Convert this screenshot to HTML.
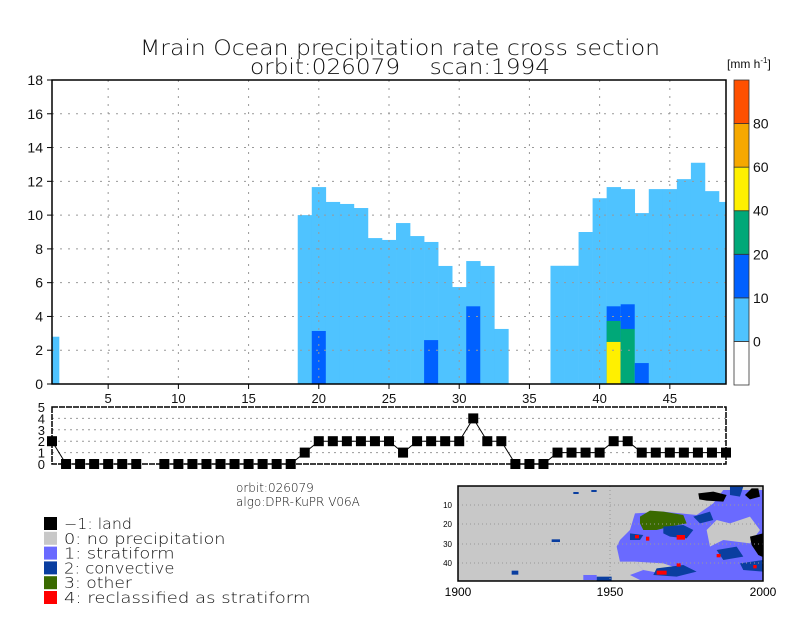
<!DOCTYPE html>
<html><head><meta charset="utf-8"><style>
html,body{margin:0;padding:0;background:#fff;}
svg{display:block;font-family:"Liberation Sans",sans-serif;}
.thin{font-family:"DejaVu Sans","Liberation Sans",sans-serif;font-weight:200;}
</style></head><body>
<svg id="chart" width="800" height="618" viewBox="0 0 800 618">
<text class="thin" x="400" y="55" text-anchor="middle" font-size="21" textLength="520" lengthAdjust="spacingAndGlyphs" fill="#111">Mrain Ocean precipitation rate cross section</text>
<text class="thin" x="400" y="74" text-anchor="middle" font-size="21" textLength="300" lengthAdjust="spacingAndGlyphs" fill="#111" xml:space="preserve">orbit:026079    scan:1994</text>
<text x="727" y="68" font-size="12" fill="#111">[mm h<tspan font-size="8" dy="-5">-1</tspan><tspan dy="5">]</tspan></text>
<g id="main"></g>
<g id="cbar"></g>
<g id="sub"></g>
<text class="thin" x="236" y="492" font-size="12" fill="#111">orbit:026079</text>
<text class="thin" x="236" y="506" font-size="12" fill="#111">algo:DPR-KuPR V06A</text>
<g id="legend"></g>
<g id="map">
 <rect x="458" y="486" width="305" height="95" fill="#c8c8c8"/>
 <g transform="translate(430,480) scale(0.3333)">
  <polygon fill="#6a6aff" points="570,180 600,150 615,100 700,95 800,105 850,70 880,30 1000,30 1000,300 630,300 600,285 640,270 615,245 570,245 560,200"/>
  <polygon fill="#c8c8c8" points="830,150 860,120 900,130 960,110 990,150 960,190 880,180 840,200"/>
  <polygon fill="#c8c8c8" points="615,245 700,250 760,270 720,285 640,270"/>
  <polygon fill="#3a6a00" points="630,110 660,92 700,95 760,105 770,130 720,140 680,150 640,150 630,130"/>
  <polygon fill="#0a3ea0" points="700,140 760,135 790,150 770,175 720,170 700,160"/>
  <polygon fill="#0a3ea0" points="790,110 840,95 850,120 810,130"/>
  <polygon fill="#0a3ea0" points="860,210 920,200 940,230 880,240"/>
  <polygon fill="#0a3ea0" points="680,265 760,255 800,275 740,290 670,285"/>
  <polygon fill="#0a3ea0" points="930,250 1000,240 1000,275 940,270"/>
  <polygon fill="#0a3ea0" points="900,20 940,20 930,50 900,45"/>
  <polygon fill="#0a3ea0" points="600,160 640,165 630,180 600,180"/>
  <polygon fill="#000" points="805,40 850,35 890,45 880,65 830,62 808,58"/>
  <polygon fill="#000" points="945,45 965,25 985,25 990,50 960,58"/>
  <polygon fill="#000" points="960,170 1000,160 1000,232 985,225 965,195"/>
  <rect x="500" y="290" width="45" height="12" fill="#0a3ea0"/>
  <rect x="460" y="285" width="40" height="15" fill="#6a6aff"/>
  <rect x="245" y="272" width="20" height="12" fill="#0a3ea0"/>
  <rect x="430" y="36" width="16" height="6" fill="#0a3ea0"/>
  <rect x="484" y="30" width="16" height="6" fill="#0a3ea0"/>
  <rect x="365" y="178" width="25" height="8" fill="#0a3ea0"/>
  <rect x="615" y="165" width="12" height="10" fill="#f00"/>
  <rect x="648" y="170" width="10" height="12" fill="#f00"/>
  <rect x="740" y="165" width="25" height="14" fill="#f00"/>
  <rect x="680" y="272" width="30" height="12" fill="#f00"/>
  <rect x="860" y="222" width="12" height="10" fill="#f00"/>
  <rect x="740" y="250" width="12" height="10" fill="#f00"/>
  <rect x="970" y="255" width="10" height="10" fill="#f00"/>
 </g>
 <line x1="610" y1="486" x2="610" y2="581" stroke="#999" stroke-dasharray="1,3"/>
 <line x1="458" y1="505" x2="763" y2="505" stroke="#999" stroke-dasharray="1,3"/>
 <line x1="458" y1="524" x2="763" y2="524" stroke="#999" stroke-dasharray="1,3"/>
 <line x1="458" y1="544" x2="763" y2="544" stroke="#999" stroke-dasharray="1,3"/>
 <line x1="458" y1="563" x2="763" y2="563" stroke="#999" stroke-dasharray="1,3"/>
 <rect x="458" y="486" width="305" height="95" fill="none" stroke="#000" stroke-width="1.5"/>
 <text x="452" y="508" font-size="8" text-anchor="end">10</text>
 <text x="452" y="527" font-size="8" text-anchor="end">20</text>
 <text x="452" y="547" font-size="8" text-anchor="end">30</text>
 <text x="452" y="566" font-size="8" text-anchor="end">40</text>
 <text x="458" y="596" font-size="12" text-anchor="middle">1900</text>
 <text x="610" y="596" font-size="12" text-anchor="middle">1950</text>
 <text x="763" y="596" font-size="12" text-anchor="middle">2000</text>
</g>
</svg>
<script>
const NS="http://www.w3.org/2000/svg";
// ---- data ----
const bins=[1,2,3,4,5,6,7,8,9,10,11,12,13,14,15,16,17,18,19,20,21,22,23,24,25,26,27,28,29,30,31,32,33,34,35,36,37,38,39,40,41,42,43,44,45,46,47,48,49];
const totalTop=[2.8,0,0,0,0,0,0,0,0,0,0,0,0,0,0,0,0,0,10.0,11.66,10.78,10.66,10.42,8.64,8.53,9.53,8.76,8.41,6.99,5.74,7.28,6.99,3.26,0,0,0,7.0,7.0,9.0,11.0,11.66,11.54,10.12,11.54,11.54,12.13,13.1,11.42,10.78];
const convTop=[0,0,0,0,0,0,0,0,0,0,0,0,0,0,0,0,0,0,0,3.14,0,0,0,0,0,0,0,2.6,0,0,4.6,0,0,0,0,0,0,0,0,0,4.6,4.72,1.24,0,0,0,0,0,0];
const greenTop=[0,0,0,0,0,0,0,0,0,0,0,0,0,0,0,0,0,0,0,0,0,0,0,0,0,0,0,0,0,0,0,0,0,0,0,0,0,0,0,0,3.73,3.26,0,0,0,0,0,0,0];
const yellowTop=[0,0,0,0,0,0,0,0,0,0,0,0,0,0,0,0,0,0,0,0,0,0,0,0,0,0,0,0,0,0,0,0,0,0,0,0,0,0,0,0,2.49,0,0,0,0,0,0,0,0];
const yTicks=[0,2,4,6,8,10,12,14,16,18];
const xTicks=[5,10,15,20,25,30,35,40,45];
const typeVals=[2,0,0,0,0,0,0,null,0,0,0,0,0,0,0,0,0,0,1,2,2,2,2,2,2,1,2,2,2,2,4,2,2,0,0,0,1,1,1,1,2,2,1,1,1,1,1,1,1];
const typeTicks=[0,1,2,3,4,5];
const cbarColors=["#ffffff","#4fc3ff","#0060ff","#00a878","#fff000","#f6a800","#ff5000"];
const cbarLabels=["0","10","20","40","60","80"];
const legendLabels=["\u22121: land","0: no precipitation","1: stratiform","2: convective","3: other","4: reclassified as stratiform"];
const legendColors=["#000000","#c8c8c8","#6a6aff","#0a3ea0","#3a6a00","#ff0000"];
// ---- axes ----
const L=52,R=726,T=80,B=384;
const xs=v=>L+(v-1)*(R-L)/48;
const ys=v=>B-v*(B-T)/18;
const sT=407,sB=464;
const ys2=v=>sB-v*(sB-sT)/5;
function mk(tag,attrs,parent){const e=document.createElementNS(NS,tag);for(const k in attrs)e.setAttribute(k,attrs[k]);parent.appendChild(e);return e;}
const main=document.getElementById('main');
function bar(v,top,color,name){
  if(!top)return;
  const x0=Math.max(L,xs(v-0.5)),x1=Math.min(R,xs(v+0.5));
  const r=mk('rect',{x:x0,y:ys(top),width:x1-x0+0.3,height:B-ys(top),fill:color},main);
  
  
}
bins.forEach((b,i)=>{
  bar(b,totalTop[i],"#4fc3ff","bar-strat-"+b);
  bar(b,convTop[i],"#0060ff","bar-conv-"+b);
  bar(b,greenTop[i],"#00a878","bar-green-"+b);
  bar(b,yellowTop[i],"#fff000","bar-yellow-"+b);
});
yTicks.forEach(t=>{
  if(t>0&&t<18){const g=mk('line',{x1:L,x2:R,y1:ys(t),y2:ys(t),stroke:"#999","stroke-dasharray":"2,6"},main);
  
  }
  const tk=mk('line',{x1:L-5,x2:L,y1:ys(t),y2:ys(t),stroke:"#000"},main);
  
  
  const tx=mk('text',{x:L-9,y:ys(t)+5,"font-size":14,"text-anchor":"end",fill:"#111"},main);
  tx.textContent=t;
  
  
});
xTicks.forEach(t=>{
  const g=mk('line',{x1:xs(t),x2:xs(t),y1:T,y2:B,stroke:"#999","stroke-dasharray":"2,6"},main);
  
  
  const tk=mk('line',{x1:xs(t),x2:xs(t),y1:B,y2:B+5,stroke:"#000"},main);
  
  
  const tx=mk('text',{x:xs(t),y:B+19,"font-size":13,"text-anchor":"middle",fill:"#111"},main);
  tx.textContent=t;
  
  
});
const fr=mk('rect',{x:L,y:T,width:R-L,height:B-T,fill:"none",stroke:"#000","stroke-width":1.5},main);


// ---- colorbar ----
const cb=document.getElementById('cbar');
const segH=(B+1-T)/cbarColors.length;
cbarColors.forEach((c,i)=>{
  const y=B+1-(i+1)*segH;
  const r=mk('rect',{x:734,y:y,width:15,height:segH,fill:c,stroke:"#333","stroke-width":0.8},cb);
  
  
});
cbarLabels.forEach((lab,i)=>{
  const y=B+1-(i+1)*segH;
  const t=mk('text',{x:753,y:y+5,"font-size":14,fill:"#111"},cb);
  t.textContent=lab;
  
  
});
// ---- type plot ----
const sub=document.getElementById('sub');
typeTicks.forEach(t=>{
  if(t>0&&t<5){const g=mk('line',{x1:L,x2:R,y1:ys2(t),y2:ys2(t),stroke:"#999","stroke-dasharray":"2,4"},sub);
  
  }
  const tx=mk('text',{x:L-7,y:ys2(t)+5,"font-size":13,"text-anchor":"end",fill:"#111"},sub);
  tx.textContent=t;
  
  
});
let d="",pen=false;
bins.forEach((b,i)=>{const v=typeVals[i];if(v===null){pen=false;return;}d+=(pen?"L":"M")+xs(b)+" "+ys2(v)+" ";pen=true;});
const ln=mk('path',{d:d,fill:"none",stroke:"#000","stroke-width":1},sub);


const sf=mk('rect',{x:L,y:sT,width:R-L,height:sB-sT,fill:"none",stroke:"#000","stroke-width":1.5,"stroke-dasharray":"6,1"},sub);


bins.forEach((b,i)=>{const v=typeVals[i];if(v===null)return;
  const m=mk('rect',{x:xs(b)-5,y:ys2(v)-5,width:10,height:10,fill:"#000"},sub);
  
  
});
// ---- legend ----
const lg=document.getElementById('legend');
legendLabels.forEach((lab,i)=>{
  const y=517+i*14.8;
  const r=mk('rect',{x:44,y:y,width:13,height:13,fill:legendColors[i]},lg);
  
  
  const t=mk('text',{x:64,y:y+12,"font-size":15,fill:"#111",class:"thin",textLength:(lab.length*8.5).toFixed(1),lengthAdjust:"spacingAndGlyphs"},lg);
  t.textContent=lab;
  
  
});
</script>
</body></html>
